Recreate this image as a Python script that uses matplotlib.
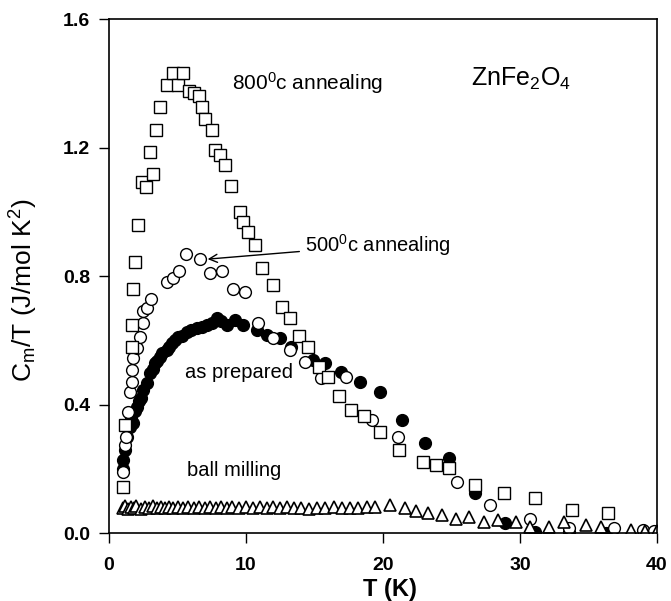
import matplotlib
matplotlib.use('Agg')
import matplotlib.pyplot as plt

plt.rcParams['font.family'] = ['Liberation Sans', 'DejaVu Sans']
plt.rcParams['mathtext.fontset'] = 'custom'
plt.rcParams['mathtext.rm'] = 'Liberation Sans'
plt.rcParams['mathtext.it'] = 'Liberation Sans:italic'
plt.rcParams['mathtext.bf'] = 'Liberation Sans:bold'

# 800 C annealing (open squares)
t_800 = [1.05, 1.17, 1.65, 1.65, 1.78, 1.90, 2.14, 2.38, 2.70, 2.99, 3.19, 3.43,
         3.72, 4.20, 4.65, 5.06, 5.42, 5.86, 6.20, 6.59, 6.76, 7.00, 7.50, 7.74,
         8.10, 8.47, 8.90, 9.56, 9.80, 10.12, 10.66, 11.20, 12.00, 12.60, 13.20,
         13.90, 14.55, 15.30, 16.00, 16.80, 17.70, 18.60, 19.80, 21.20, 22.90,
         23.90, 24.80, 26.70, 28.80, 31.10, 33.80, 36.40]
c_800 = [0.144, 0.336, 0.580, 0.648, 0.759, 0.845, 0.960, 1.094, 1.079, 1.188, 1.118, 1.255,
         1.328, 1.396, 1.434, 1.396, 1.434, 1.375, 1.370, 1.360, 1.328, 1.289, 1.255, 1.193,
         1.178, 1.146, 1.081, 1.001, 0.970, 0.936, 0.897, 0.826, 0.773, 0.705, 0.669,
         0.614, 0.578, 0.518, 0.487, 0.427, 0.383, 0.364, 0.316, 0.259, 0.222,
         0.212, 0.202, 0.150, 0.124, 0.108, 0.072, 0.063]

# 500 C annealing (open circles)
t_500 = [1.05, 1.17, 1.24, 1.41, 1.53, 1.65, 1.65, 1.77, 2.02, 2.26, 2.46, 2.50, 2.75,
         3.10, 4.20, 4.65, 5.13, 5.62, 6.64, 7.37, 8.22, 9.05, 9.93, 10.90, 12.00,
         13.20, 14.30, 15.50, 17.30, 19.20, 21.10, 25.40, 27.80, 30.70, 33.60, 36.90,
         39.00, 39.80]
c_500 = [0.191, 0.274, 0.300, 0.378, 0.440, 0.471, 0.508, 0.544, 0.575, 0.612, 0.653, 0.690, 0.700,
         0.728, 0.783, 0.793, 0.817, 0.869, 0.853, 0.809, 0.817, 0.760, 0.752, 0.653, 0.606,
         0.570, 0.534, 0.482, 0.487, 0.352, 0.298, 0.160, 0.087, 0.043, 0.015, 0.015,
         0.010, 0.008]

# as prepared (filled circles)
t_prep = [1.00, 1.05, 1.15, 1.30, 1.50, 1.60, 1.77, 1.90, 2.02, 2.20, 2.30, 2.50, 2.75,
          3.00, 3.20, 3.36, 3.50, 3.72, 3.90, 4.20, 4.40, 4.57, 4.80, 5.06, 5.30, 5.67,
          6.00, 6.40, 6.80, 7.13, 7.50, 7.86, 8.20, 8.60, 9.20, 9.80, 10.80, 11.50,
          12.50, 13.30, 14.90, 15.80, 16.90, 18.30, 19.80, 21.40, 23.10, 24.80, 26.70,
          28.90, 31.10, 33.60, 36.30]
c_prep = [0.200, 0.227, 0.260, 0.300, 0.330, 0.360, 0.342, 0.380, 0.393, 0.410, 0.420, 0.445, 0.466,
          0.497, 0.510, 0.529, 0.535, 0.549, 0.560, 0.570, 0.580, 0.591, 0.600, 0.610, 0.615, 0.627,
          0.632, 0.638, 0.642, 0.648, 0.655, 0.669, 0.660, 0.648, 0.664, 0.648, 0.632, 0.617,
          0.606, 0.580, 0.539, 0.529, 0.503, 0.471, 0.440, 0.352, 0.279, 0.233, 0.124,
          0.030, 0.004, 0.004, 0.001]

# ball milling (open triangles)
t_ball = [1.0, 1.2, 1.4, 1.6, 1.8, 2.0, 2.3, 2.6, 2.9, 3.2, 3.5, 3.8, 4.1, 4.4, 4.7,
          5.0, 5.4, 5.8, 6.2, 6.6, 7.0, 7.4, 7.8, 8.2, 8.6, 9.0, 9.5, 10.0, 10.5, 11.0,
          11.5, 12.0, 12.5, 13.0, 13.5, 14.0, 14.6, 15.2, 15.8, 16.4, 17.0, 17.6, 18.2,
          18.8, 19.4, 20.5, 21.6, 22.4, 23.3, 24.3, 25.3, 26.3, 27.4, 28.4, 29.7, 30.7,
          32.1, 33.2, 34.8, 35.9, 38.1, 39.1, 40.0]
c_ball = [0.078, 0.085, 0.075, 0.082, 0.078, 0.083, 0.076, 0.080, 0.078, 0.083, 0.078, 0.080, 0.077, 0.082, 0.079,
          0.081, 0.078, 0.080, 0.079, 0.081, 0.078, 0.080, 0.079, 0.080, 0.078, 0.080, 0.079, 0.081, 0.078, 0.080,
          0.079, 0.081, 0.078, 0.080, 0.077, 0.079, 0.076, 0.079, 0.077, 0.080, 0.078, 0.077, 0.079,
          0.081, 0.080, 0.087, 0.078, 0.070, 0.061, 0.056, 0.045, 0.050, 0.035, 0.040, 0.035, 0.020,
          0.020, 0.035, 0.025, 0.020, 0.010, 0.008, 0.008]

fig = plt.figure(figsize=(6.71, 6.01), dpi=100)
ax = fig.add_axes([0.1625, 0.113, 0.8165, 0.855])

ms = 8.5
ax.plot(t_prep, c_prep, 'o', ms=ms, mfc='black', mec='black', mew=1.0, ls='none')
ax.plot(t_500, c_500, 'o', ms=ms, mfc='white', mec='black', mew=1.0, ls='none')
ax.plot(t_800, c_800, 's', ms=ms, mfc='white', mec='black', mew=1.0, ls='none')
ax.plot(t_ball, c_ball, '^', ms=ms, mfc='white', mec='black', mew=1.2, ls='none')

ax.set_xlim(0, 40)
ax.set_ylim(0, 1.6)
ax.set_xticks([0, 10, 20, 30, 40])
ax.set_yticks([0.0, 0.4, 0.8, 1.2, 1.6])
ax.set_yticklabels(['0.0', '0.4', '0.8', '1.2', '1.6'])
ax.tick_params(direction='out', length=7.5, width=1, labelsize=14)
ax.tick_params(axis='x', pad=10)
ax.tick_params(axis='y', pad=6)
for lab in ax.get_xticklabels() + ax.get_yticklabels():
    lab.set_fontweight('bold')
for sp in ax.spines.values():
    sp.set_linewidth(1.2)

ax.set_xlabel('T (K)', fontsize=17, fontweight='bold')
ax.set_ylabel(r'C$_\mathrm{m}$/T (J/mol K$^2$)', fontsize=19)
ax.xaxis.set_label_coords(0.513, -0.088)
ax.yaxis.set_label_coords(-0.126, 0.473)

ax.text(9.0, 1.40, r'800$^\mathrm{0}$c annealing', fontsize=15, ha='left', va='center')
ax.text(26.4, 1.415, r'ZnFe$_2$O$_4$', fontsize=18, ha='left', va='center')
ax.annotate(r'500$^\mathrm{0}$c annealing', xy=(7.2, 0.853), xytext=(14.3, 0.897),
            fontsize=14.5, ha='left', va='center',
            arrowprops=dict(arrowstyle='->', color='black', lw=1, shrinkA=2, shrinkB=0))
ax.text(5.55, 0.50, 'as prepared', fontsize=14.5, ha='left', va='center')
ax.text(5.7, 0.194, 'ball milling', fontsize=14.5, ha='left', va='center')

fig.savefig('out.png', dpi=100)
